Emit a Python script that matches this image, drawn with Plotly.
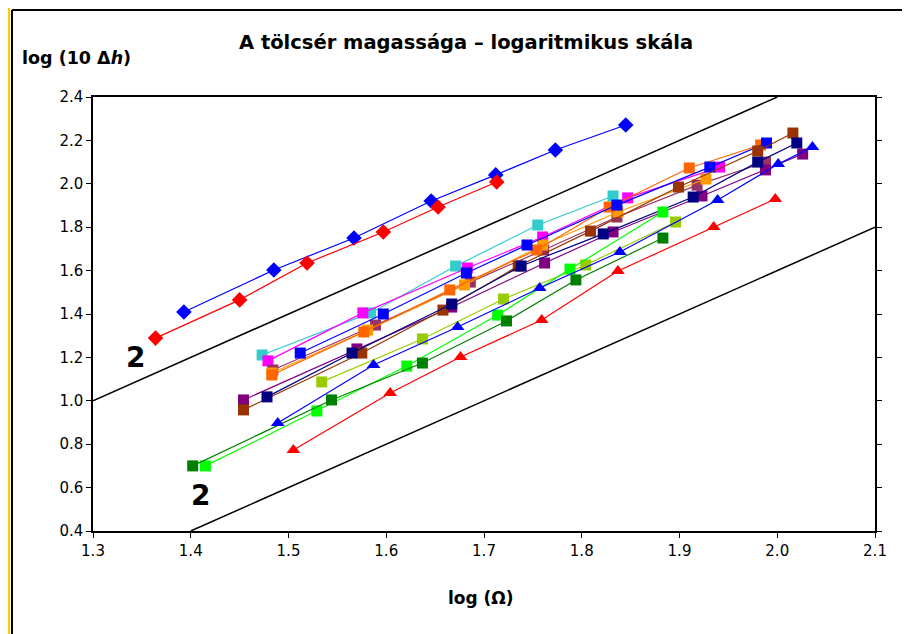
import plotly.graph_objects as go

# ---- data (log Ω, log(10Δh)) ----
blue_dia_x = [1.393, 1.485, 1.567, 1.646, 1.712, 1.773, 1.845]
blue_dia_y = [1.409, 1.603, 1.750, 1.921, 2.041, 2.156, 2.271]

red_dia_x = [1.364, 1.450, 1.519, 1.597, 1.653, 1.713]
red_dia_y = [1.289, 1.465, 1.635, 1.778, 1.893, 2.008]

cyan_x = [1.473, 1.584, 1.671, 1.755, 1.832]
cyan_y = [1.211, 1.405, 1.621, 1.810, 1.944]

magenta_x = [1.479, 1.576, 1.683, 1.760, 1.847, 1.941]
magenta_y = [1.184, 1.405, 1.612, 1.755, 1.935, 2.077]

blue_sq_x = [1.512, 1.597, 1.682, 1.744, 1.836, 1.931, 1.989]
blue_sq_y = [1.220, 1.400, 1.589, 1.718, 1.902, 2.077, 2.188]

orange_x = [1.483, 1.577, 1.665, 1.754, 1.828, 1.910, 1.983]
orange_y = [1.119, 1.317, 1.511, 1.695, 1.893, 2.073, 2.179]

lorange_x = [1.483, 1.581, 1.680, 1.760, 1.837, 1.927]
lorange_y = [1.128, 1.326, 1.534, 1.718, 1.870, 2.022]

mauve_x = [1.484, 1.589, 1.686, 1.761, 1.836, 1.918, 1.988]
mauve_y = [1.142, 1.349, 1.547, 1.695, 1.847, 1.994, 2.100]

purple_x = [1.454, 1.570, 1.667, 1.762, 1.832, 1.923, 1.988, 2.026]
purple_y = [1.004, 1.239, 1.432, 1.635, 1.778, 1.944, 2.064, 2.137]

navy_x = [1.478, 1.565, 1.667, 1.738, 1.822, 1.914, 1.980, 2.020]
navy_y = [1.018, 1.220, 1.446, 1.621, 1.769, 1.939, 2.100, 2.188]

brown_x = [1.454, 1.575, 1.658, 1.735, 1.809, 1.899, 1.980, 2.016]
brown_y = [0.958, 1.220, 1.418, 1.621, 1.782, 1.985, 2.151, 2.234]

ygreen_x = [1.534, 1.637, 1.720, 1.804, 1.896]
ygreen_y = [1.087, 1.285, 1.469, 1.626, 1.824]

green_x = [1.415, 1.529, 1.621, 1.714, 1.788, 1.883]
green_y = [0.700, 0.953, 1.160, 1.395, 1.607, 1.870]

dgreen_x = [1.402, 1.544, 1.637, 1.723, 1.794, 1.883]
dgreen_y = [0.700, 1.004, 1.174, 1.368, 1.557, 1.750]

blue_tri_x = [1.489, 1.587, 1.673, 1.757, 1.839, 1.939, 2.001, 2.036]
blue_tri_y = [0.898, 1.165, 1.340, 1.520, 1.686, 1.925, 2.091, 2.170]

red_tri_x = [1.505, 1.604, 1.676, 1.759, 1.837, 1.935, 1.998]
red_tri_y = [0.773, 1.036, 1.202, 1.372, 1.598, 1.801, 1.930]

# slope-2 reference lines
ref_upper_x = [1.3, 2.0]
ref_upper_y = [1.0, 2.4]
ref_lower_x = [1.4, 2.1]
ref_lower_y = [0.4, 1.8]

x_ticks = [1.3, 1.4, 1.5, 1.6, 1.7, 1.8, 1.9, 2.0, 2.1]
y_ticks = [0.4, 0.6, 0.8, 1.0, 1.2, 1.4, 1.6, 1.8, 2.0, 2.2, 2.4]

series = [
    (cyan_x, cyan_y, "#33CCCC", "square", 11),
    (magenta_x, magenta_y, "#FF00FF", "square", 11),
    (mauve_x, mauve_y, "#993366", "square", 11),
    (lorange_x, lorange_y, "#FF9900", "square", 11),
    (orange_x, orange_y, "#FF6600", "square", 11),
    (blue_sq_x, blue_sq_y, "#0000FF", "square", 11),
    (purple_x, purple_y, "#800080", "square", 11),
    (brown_x, brown_y, "#993300", "square", 11),
    (navy_x, navy_y, "#000080", "square", 11),
    (ygreen_x, ygreen_y, "#99CC00", "square", 11),
    (green_x, green_y, "#00FF00", "square", 11),
    (dgreen_x, dgreen_y, "#008000", "square", 11),
    (blue_tri_x, blue_tri_y, "#0000FF", "triangle-up", 12),
    (red_tri_x, red_tri_y, "#FF0000", "triangle-up", 12),
    (blue_dia_x, blue_dia_y, "#0000FF", "diamond", 12),
    (red_dia_x, red_dia_y, "#FF0000", "diamond", 12),
]

FONT = "DejaVu Sans, Liberation Sans, Arial"

fig = go.Figure()

for rx, ry in [(ref_upper_x, ref_upper_y), (ref_lower_x, ref_lower_y)]:
    fig.add_trace(go.Scatter(x=rx, y=ry, mode="lines",
                             line=dict(color="black", width=1.5),
                             showlegend=False, hoverinfo="skip"))

for sx, sy, col, sym, size in series:
    fig.add_trace(go.Scatter(x=sx, y=sy, mode="lines+markers",
                             line=dict(color=col, width=1.2),
                             marker=dict(color=col, symbol=sym, size=size,
                                         line=dict(width=0)),
                             showlegend=False))

axis_common = dict(showgrid=False, zeroline=False, showline=True,
                   linecolor="black", linewidth=1.5,
                   ticks="outside", ticklen=5, tickcolor="black",
                   tickwidth=1.2, tickformat=".1f",
                   tickfont=dict(family=FONT, size=15, color="black"))

fig.update_xaxes(range=[1.3, 2.1], tickvals=x_ticks, mirror=True, **axis_common)
fig.update_yaxes(range=[0.4, 2.4], tickvals=y_ticks, mirror="ticks", **axis_common)

fig.add_annotation(x=1.343, y=1.2, text="<b>2</b>", showarrow=False,
                   font=dict(family=FONT, size=28, color="black"))
fig.add_annotation(x=1.41, y=0.565, text="<b>2</b>", showarrow=False,
                   font=dict(family=FONT, size=28, color="black"))

# axis titles and chart title (page pixel -> paper coords)
fig.add_annotation(xref="paper", yref="paper", x=(20 - 93) / 782, y=(531 - 58) / 434,
                   xanchor="left", yanchor="middle", showarrow=False,
                   text="<b>log (10 Δ<i>h</i>)</b>",
                   font=dict(family=FONT, size=17.5, color="black"))
fig.add_annotation(xref="paper", yref="paper", x=(481 - 93) / 782, y=(531 - 598) / 434,
                   xanchor="center", yanchor="middle", showarrow=False,
                   text="<b>log (Ω)</b>",
                   font=dict(family=FONT, size=17, color="black"))
fig.add_annotation(xref="paper", yref="paper", x=(466 - 93) / 782, y=(531 - 42) / 434,
                   xanchor="center", yanchor="middle", showarrow=False,
                   text="<b>A tölcsér magassága – logaritmikus skála</b>",
                   font=dict(family=FONT, size=19.5, color="black"))

# outer frame (yellow edge and black border)
fig.add_shape(type="line", xref="paper", yref="paper",
              x0=(9 - 93) / 782, x1=(9 - 93) / 782, y0=-0.3, y1=1.3,
              line=dict(color="#FFCC00", width=2))
fig.add_shape(type="line", xref="paper", yref="paper",
              x0=(12 - 93) / 782, x1=(12 - 93) / 782, y0=-0.3, y1=(531 - 10) / 434,
              line=dict(color="black", width=2))
fig.add_shape(type="line", xref="paper", yref="paper",
              x0=(12 - 93) / 782, x1=1.2, y0=(531 - 10) / 434, y1=(531 - 10) / 434,
              line=dict(color="black", width=2))

fig.update_layout(width=910, height=634,
                  margin=dict(l=85, r=43, t=89, b=111),
                  paper_bgcolor="white", plot_bgcolor="white",
                  font=dict(family=FONT))

fig.write_html("out.html")
